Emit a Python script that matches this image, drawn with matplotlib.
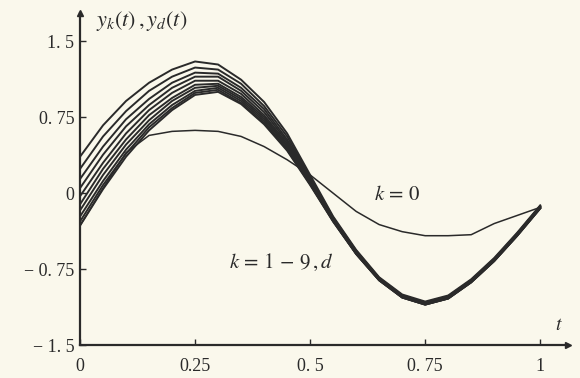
import matplotlib
matplotlib.use("Agg")
import matplotlib.pyplot as plt

plt.rcParams['font.family'] = ['Liberation Serif', 'DejaVu Serif']
plt.rcParams['mathtext.fontset'] = 'stix'

# time grid
t = [0.0, 0.05, 0.10, 0.15, 0.20, 0.25, 0.30, 0.35, 0.40, 0.45, 0.50,
     0.55, 0.60, 0.65, 0.70, 0.75, 0.80, 0.85, 0.90, 0.95, 1.0]

# desired trajectory y_d(t)
y_d = [-0.32, 0.04, 0.36, 0.62, 0.82, 0.97, 1.00, 0.88, 0.68, 0.42, 0.08,
       -0.28, -0.60, -0.86, -1.03, -1.10, -1.04, -0.88, -0.67, -0.42, -0.15]

# k = 0
y_0 = [-0.32, 0.05, 0.40, 0.57, 0.61, 0.62, 0.61, 0.56, 0.46, 0.33, 0.18,
       0.00, -0.18, -0.31, -0.38, -0.42, -0.42, -0.41, -0.30, -0.22, -0.14]

# k = 1 .. 9
y_1 = [0.36, 0.67, 0.91, 1.09, 1.22, 1.30, 1.27, 1.12, 0.90, 0.59, 0.18,
       -0.23, -0.56, -0.83, -1.00, -1.07, -1.01, -0.85, -0.64, -0.39, -0.12]
y_2 = [0.24, 0.56, 0.81, 1.01, 1.15, 1.24, 1.22, 1.08, 0.86, 0.56, 0.16,
       -0.24, -0.57, -0.84, -1.01, -1.08, -1.02, -0.86, -0.65, -0.40, -0.13]
y_3 = [0.14, 0.46, 0.73, 0.93, 1.09, 1.19, 1.18, 1.04, 0.83, 0.53, 0.15,
       -0.25, -0.57, -0.84, -1.01, -1.08, -1.02, -0.86, -0.65, -0.40, -0.13]
y_4 = [0.05, 0.38, 0.66, 0.87, 1.04, 1.15, 1.15, 1.01, 0.80, 0.51, 0.13,
       -0.25, -0.58, -0.84, -1.01, -1.08, -1.02, -0.86, -0.65, -0.40, -0.13]
y_5 = [-0.03, 0.30, 0.59, 0.82, 0.99, 1.11, 1.11, 0.98, 0.77, 0.49, 0.12,
       -0.26, -0.58, -0.85, -1.02, -1.09, -1.03, -0.87, -0.66, -0.41, -0.14]
y_6 = [-0.11, 0.24, 0.53, 0.77, 0.94, 1.07, 1.08, 0.95, 0.75, 0.47, 0.11,
       -0.26, -0.59, -0.85, -1.02, -1.09, -1.03, -0.87, -0.66, -0.41, -0.14]
y_7 = [-0.17, 0.18, 0.48, 0.72, 0.91, 1.04, 1.06, 0.93, 0.73, 0.46, 0.10,
       -0.27, -0.59, -0.85, -1.02, -1.09, -1.03, -0.87, -0.66, -0.41, -0.14]
y_8 = [-0.23, 0.12, 0.43, 0.68, 0.87, 1.01, 1.04, 0.91, 0.71, 0.44, 0.09,
       -0.27, -0.60, -0.86, -1.03, -1.10, -1.04, -0.88, -0.67, -0.42, -0.15]
y_9 = [-0.28, 0.08, 0.39, 0.65, 0.84, 0.99, 1.02, 0.89, 0.69, 0.43, 0.09,
       -0.28, -0.60, -0.86, -1.03, -1.10, -1.04, -0.88, -0.67, -0.42, -0.15]

xticks = [0, 0.25, 0.5, 0.75, 1]
xlabels = ['0', '0.25', '0. 5', '0. 75', '1']
yticks = [-1.5, -0.75, 0, 0.75, 1.5]
ylabels = ['\u2212 1. 5', '\u2212 0. 75', '0', '0. 75', '1. 5']

paper = '#faf8ec'
ink = '#2a2a2a'

fig = plt.figure(figsize=(5.8, 3.78), dpi=100, facecolor=paper)
ax = fig.add_axes([0.138, 0.087, 0.841, 0.879], facecolor=paper)

for y in [y_1, y_2, y_3, y_4, y_5, y_6, y_7, y_8, y_9, y_d]:
    ax.plot(t, y, color=ink, lw=1.4, solid_joinstyle='round')
ax.plot(t, y_0, color=ink, lw=1.1)

ax.set_xlim(0, 1.06)
ax.set_ylim(-1.5, 1.78)
ax.spines['top'].set_visible(False)
ax.spines['right'].set_visible(False)
for s in ['left', 'bottom']:
    ax.spines[s].set_color(ink)
    ax.spines[s].set_linewidth(1.6)

ax.plot(1, 0, '>', color=ink, ms=5, transform=ax.transAxes, clip_on=False)
ax.plot(0, 1, '^', color=ink, ms=5, transform=ax.transAxes, clip_on=False)

ax.set_xticks(xticks)
ax.set_xticklabels(xlabels, fontsize=13)
ax.set_yticks(yticks)
ax.set_yticklabels(ylabels, fontsize=13)
ax.tick_params(direction='in', length=4, width=1, colors=ink, pad=4)
ax.tick_params(axis='x', pad=9)

ax.text(0.035, 1.70, r'$y_k(t)\,,y_d(t)$', fontsize=16, color=ink, va='center')
ax.text(1.04, -1.35, r'$t$', fontsize=14, color=ink, ha='center')
ax.text(0.69, -0.02, r'$k\,=\,0$', fontsize=15, color=ink, ha='center', va='center')
ax.text(0.437, -0.68, r'$k\,=\,1\,-\,9\,,d$', fontsize=15, color=ink, ha='center', va='center')

fig.savefig('out.png', dpi=100, facecolor=paper)
